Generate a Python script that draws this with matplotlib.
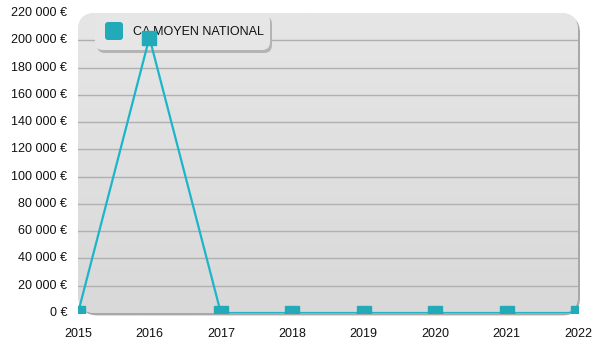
import matplotlib
matplotlib.use("Agg")
import matplotlib.pyplot as plt
import numpy as np
from matplotlib.patches import FancyBboxPatch

years = [2015, 2016, 2017, 2018, 2019, 2020, 2021, 2022]
values = [0, 202000, 0, 0, 0, 0, 0, 0]
series_name = "CA MOYEN NATIONAL"
yticks = list(range(0, 220001, 20000))

plt.rcParams['font.family'] = ['Liberation Sans', 'DejaVu Sans']

fig = plt.figure(figsize=(6, 3.5), dpi=100)
rect = [78/600, 37/350, 500/600, 300/350]

# background axes
bax = fig.add_axes(rect, zorder=0)
bax.set_xlim(2015, 2022)
bax.set_ylim(0, 220000)
bax.axis('off')
shadow = FancyBboxPatch((0.004, -0.008), 1.0, 1.0, boxstyle="round,pad=0,rounding_size=0.035",
                        transform=bax.transAxes, facecolor='#a8a8a8', edgecolor='none',
                        zorder=0, clip_on=False, mutation_aspect=500/300)
bax.add_patch(shadow)
bg = FancyBboxPatch((0, 0), 1.0, 1.0, boxstyle="round,pad=0,rounding_size=0.035",
                    transform=bax.transAxes, facecolor='#e0e0e0', edgecolor='none',
                    zorder=0.5, clip_on=False, mutation_aspect=500/300)
bax.add_patch(bg)
grad = np.linspace(0, 1, 256).reshape(-1, 1)
im = bax.imshow(grad, cmap=matplotlib.colors.LinearSegmentedColormap.from_list('g', ['#d9d9d9', '#e6e6e6']),
                extent=[0, 1, 0, 1], transform=bax.transAxes, aspect='auto', origin='lower', zorder=0.6)
im.set_clip_path(bg)
bax.set_xlim(2015, 2022)
bax.set_ylim(0, 220000)
for yt in yticks[1:-1]:
    bax.axhline(yt, color='#b0b0b0', lw=1, zorder=1)

fmt = lambda v: (f"{int(v):,}".replace(",", " ") + " €")
for yt in yticks:
    bax.text(-0.022, yt, fmt(yt), transform=bax.get_yaxis_transform(), ha='right', va='center',
             fontsize=9, color='#111111')
for yr in years:
    bax.text(yr, -0.07, str(yr), transform=bax.get_xaxis_transform(), ha='center', va='center',
             fontsize=9, color='#111111')

# legend axes
lax = fig.add_axes([0, 0, 1, 1], zorder=1)
lax.set_xlim(0, 600)
lax.set_ylim(350, 0)
lax.axis('off')
lsh = FancyBboxPatch((97, 16), 175, 37, boxstyle="round,pad=0,rounding_size=8",
                     facecolor='#b4b4b4', edgecolor='none', zorder=1)
lax.add_patch(lsh)
lbox = FancyBboxPatch((95, 13), 175, 37, boxstyle="round,pad=0,rounding_size=8",
                      facecolor='#e6e6e6', edgecolor='none', zorder=2)
lax.add_patch(lbox)
sq = FancyBboxPatch((105, 22), 18, 18, boxstyle="round,pad=0,rounding_size=3",
                    facecolor='#22aab8', edgecolor='none', zorder=3)
lax.add_patch(sq)
lax.text(133, 32, series_name, ha='left', va='center', fontsize=9, color='#111111', zorder=3)

# data axes
ax = fig.add_axes(rect, zorder=2)
ax.patch.set_alpha(0)
ax.axis('off')
ax.set_xlim(2015, 2022)
ax.set_ylim(0, 220000)
ax.plot(years, values, color='#1cb5c9', lw=1.6, zorder=3, clip_on=True)
ax.plot(years, values, ls='none', marker='s', ms=10, mfc='#22aab8', mec='#22aab8',
        zorder=4, clip_on=True)

fig.savefig("out.png", dpi=100)
